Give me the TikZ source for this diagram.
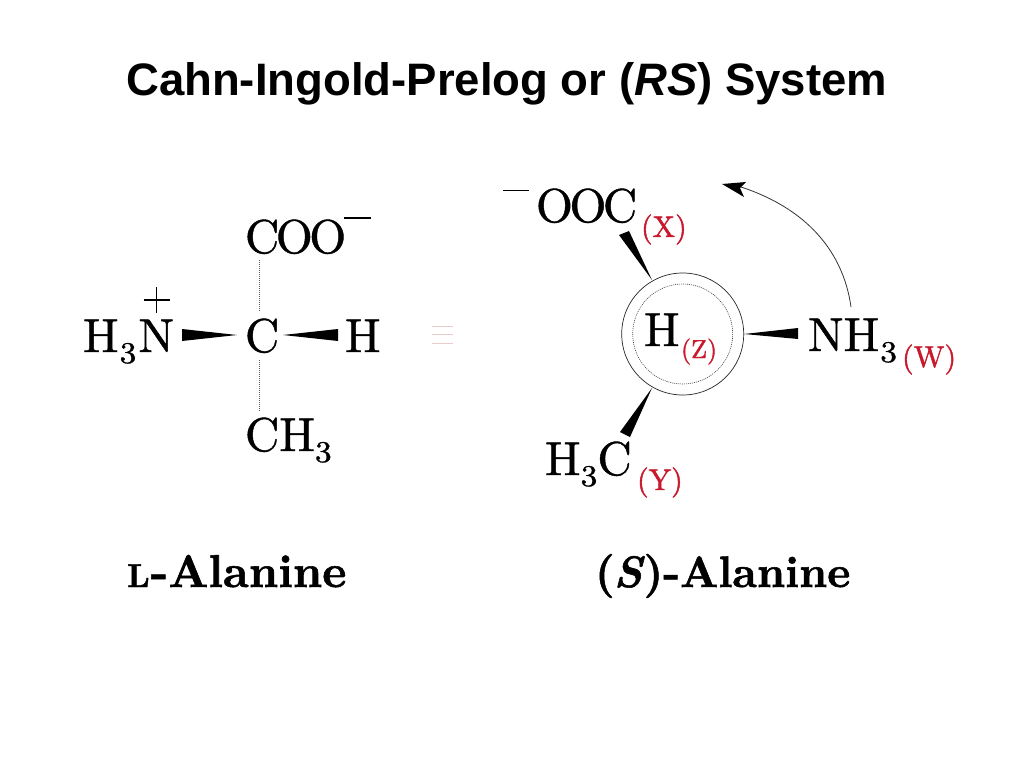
\documentclass[tikz,border=0pt]{standalone}
\usepackage{fontspec}
\usepackage{graphicx}
\newfontfamily\titlefont{Liberation Sans}
\newfontfamily\chem{lmroman10-regular}[Extension=.otf,RawFeature={embolden=0.9}]
\newfontfamily\tagf{lmroman10-regular}[Extension=.otf,RawFeature={embolden=1.4}]
\newfontfamily\capf{lmroman10-bold}[Extension=.otf,ItalicFont=lmroman10-bolditalic,RawFeature={embolden=1.2}]
\definecolor{labelred}{RGB}{200,25,45}
\definecolor{paleline}{RGB}{232,205,200}
\newcommand{\sbs}[1]{\raisebox{-11pt}{\scalebox{1.12}[1]{\fontsize{30}{30}\selectfont #1}}}
\tikzset{
  atom/.style={inner sep=0pt,outer sep=0pt,anchor=base west,font=\chem\fontsize{47.5}{50}\selectfont},
  tag/.style={inner sep=0pt,outer sep=0pt,anchor=base west,text=labelred,font=\tagf\fontsize{30}{32}\selectfont},
  smalltag/.style={tag,font=\tagf\fontsize{26}{28}\selectfont},
  caption/.style={inner sep=0pt,outer sep=0pt,anchor=base west,font=\capf\fontsize{44}{48}\selectfont},
  wedge/.style={fill=black,draw=none},
  charge/.style={line width=1.8pt,black},
  hashed/.style={line width=0.7pt,black!65,dash pattern=on 1pt off 1pt},
  thinring/.style={line width=0.7pt,black!85},
  dotring/.style={line width=0.6pt,black!75,dash pattern=on 1pt off 1pt},
  equivline/.style={line width=0.8pt,paleline}
}
\begin{document}
\begin{tikzpicture}[x=1pt,y=-1pt]
\useasboundingbox[fill=white] (0,0) rectangle (1024,768);
\node[inner sep=0pt,anchor=base west,font=\titlefont\bfseries\fontsize{45.5}{48}\selectfont] (title) at (126,95) {Cahn-Ingold-Prelog or (\textit{RS}) System};
% left structure
\node[atom] (nh) at (83,352) {H\kern1pt\sbs{3}\kern2pt N};
\node[atom] (c) at (245,352) {C};
\node[atom] (h) at (345,352) {H};
\node[atom] (coo) at (245,253) {C\kern-3.5pt O\kern-3.5pt O};
\node[atom] (ch) at (245,451) {CH\sbs{3}};
\coordinate (plusc) at (156.5,300);
\draw[charge] ([xshift=-13pt]plusc) -- ([xshift=13pt]plusc) ([yshift=-13pt]plusc) -- ([yshift=13pt]plusc);
\coordinate (cooma) at (344,218); \coordinate (coomb) at (371,218);
\draw[charge] (cooma) -- (coomb);
\coordinate (wla) at (182,329); \coordinate (wlb) at (182,341); \coordinate (wlt) at (237,335);
\fill[wedge] (wla) -- (wlt) -- (wlb) -- cycle;
\coordinate (wra) at (338,329); \coordinate (wrb) at (338,341); \coordinate (wrt) at (283,335);
\fill[wedge] (wra) -- (wrt) -- (wrb) -- cycle;
\coordinate (da) at (259.5,260); \coordinate (db) at (259.5,311);
\coordinate (dc) at (259.5,360); \coordinate (dd) at (259.5,411);
\draw[hashed] (da) -- (db);
\draw[hashed] (dc) -- (dd);
% equivalence sign
\coordinate (ea) at (432,326); \coordinate (eb) at (453,326);
\coordinate (ec) at (432,334.5); \coordinate (ed) at (453,334.5);
\coordinate (ee) at (432,343); \coordinate (ef) at (453,343);
\draw[equivline] (ea) -- (eb) (ec) -- (ed) (ee) -- (ef);
% right structure
\coordinate (ring) at (682.7,334);
\draw[thinring] (ring) circle[radius=61];
\draw[dotring] (ring) circle[radius=50];
\node[atom] (ooc) at (536,222) {O\kern-3.5pt O\kern-3.5pt C};
\coordinate (ooma) at (503,190.5); \coordinate (oomb) at (529,190.5);
\draw[charge] (ooma) -- (oomb);
\node[tag] (x) at (641,237) {(X)};
\node[atom] (hz) at (644,346) {H};
\node[smalltag] (z) at (681,358) {(Z)};
\node[atom] (nh3) at (808,351) {NH\kern1pt\sbs{3}};
\node[tag] (w) at (902,367) {(W)};
\node[atom] (h3c) at (545,475) {H\sbs{3}C};
\node[tag] (y) at (637,490) {(Y)};
\coordinate (wxa) at (619,235); \coordinate (wxb) at (629,231); \coordinate (wxt) at (652,280);
\fill[wedge] (wxa) -- (wxt) -- (wxb) -- cycle;
\coordinate (wya) at (620,432); \coordinate (wyb) at (630,437); \coordinate (wyt) at (652,388);
\fill[wedge] (wya) -- (wyt) -- (wyb) -- cycle;
\coordinate (wna) at (798,328); \coordinate (wnb) at (798,339); \coordinate (wnt) at (744,334);
\fill[wedge] (wna) -- (wnt) -- (wnb) -- cycle;
% rotation arrow
\coordinate (ars) at (851,307); \coordinate (are) at (741,187);
\draw[line width=0.8pt,black!80] (ars) .. controls (843,250) and (805,208) .. (are);
\coordinate (tip) at (722,184); \coordinate (tu) at (746,182); \coordinate (tn) at (740,188); \coordinate (tl) at (744,197);
\fill[wedge] (tip) -- (tu) -- (tn) -- (tl) -- cycle;
% captions
\node[caption] (la) at (127,587) {{\fontsize{33}{34}\selectfont L}\kern1pt{\fontsize{46}{48}\selectfont -Alanine}};
\node[caption] (sa) at (595,587) {(\kern-1pt\textit{S}\kern-1pt)-Alanine};
\end{tikzpicture}
\end{document}
